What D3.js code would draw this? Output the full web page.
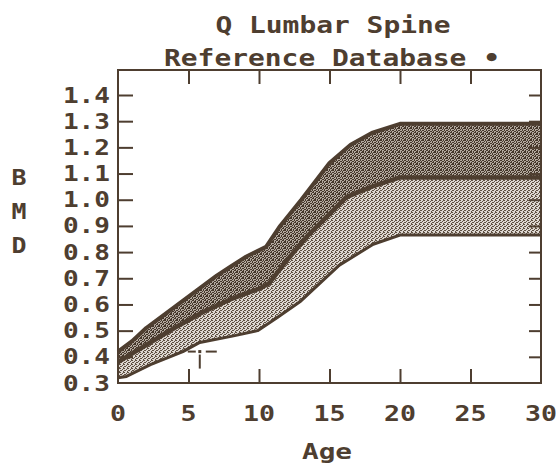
<!DOCTYPE html>
<html><head><meta charset="utf-8">
<script src="https://cdn.jsdelivr.net/npm/d3@7"></script>
<style>body{margin:0;background:#fff}svg{display:block}</style>
</head><body>
<svg id="c" width="556" height="464"></svg>
<script>
// ---- data ----
const titleLines = ["Q Lumbar Spine", "Reference Database \u2022"];
const xTicks = [0, 5, 10, 15, 20, 25, 30];
const yTicks = [0.3, 0.4, 0.5, 0.6, 0.7, 0.8, 0.9, 1.0, 1.1, 1.2, 1.3, 1.4];
const yTickLabels = ["0.3","0.4","0.5","0.6","0.7","0.8","0.9","1.0","1.1","1.2","1.3","1.4"];

const upperAge = [0, 1, 2, 3, 4, 5, 6, 7, 8, 9, 10.5, 11.5, 13, 15, 16.5, 18, 20, 30];
const upperBMD = [0.42, 0.46, 0.51, 0.55, 0.59, 0.63, 0.67, 0.71, 0.745, 0.78, 0.82, 0.90, 1.00, 1.14, 1.21, 1.255, 1.29, 1.29];

const meanAge = [0, 2, 4, 6, 8, 10, 10.7, 12, 13.5, 15, 16.2, 18, 20, 30];
const meanBMD = [0.38, 0.445, 0.51, 0.57, 0.62, 0.66, 0.68, 0.77, 0.865, 0.945, 1.01, 1.05, 1.085, 1.085];

const lowerAge = [0, 0.6, 2.3, 4.6, 5.8, 8.2, 9.9, 11.3, 12.9, 15.7, 18.1, 20, 30];
const lowerBMD = [0.32, 0.325, 0.37, 0.42, 0.455, 0.48, 0.50, 0.55, 0.61, 0.75, 0.83, 0.865, 0.865];

const patientAge = [5.8];
const patientBMD = [0.42];

// ---- layout ----
const ink = "#4e3e30";
const svg = d3.select("#c");
const x = d3.scaleLinear().domain([0, 30]).range([118, 541]);
const y = d3.scaleLinear().domain([0.3, 1.4]).range([383, 95]);
const frameTop = 70;

const defs = svg.append("defs");
const pd = defs.append("pattern").attr("id","pdark").attr("patternUnits","userSpaceOnUse")
  .attr("width",6).attr("height",6);
pd.append("rect").attr("width",6).attr("height",6).attr("fill","#b3a99f");
[[0,0,2,1],[3,0,1,2],[5,1,1,2],[1,2,2,1],[0,3,1,2],[2,4,2,1],[4,3,1,1],[5,5,1,1],[1,5,1,1],[3,2,1,1],[4,5,1,1],[2,1,1,1]]
  .forEach(r=>pd.append("rect").attr("x",r[0]).attr("y",r[1]).attr("width",r[2]).attr("height",r[3]).attr("fill","#44362a"));
const pl = defs.append("pattern").attr("id","plight").attr("patternUnits","userSpaceOnUse")
  .attr("width",4).attr("height",4);
pl.append("rect").attr("width",4).attr("height",4).attr("fill","#ddd7d1");
[[0,0],[2,1],[1,2],[3,3],[0,2],[3,0]]
  .forEach(r=>pl.append("rect").attr("x",r[0]).attr("y",r[1]).attr("width",1).attr("height",1).attr("fill","#5f5042"));

const pts = (ages, vals) => ages.map((a,i)=>({a, v: vals[i]}));
const up = pts(upperAge, upperBMD), mid = pts(meanAge, meanBMD), low = pts(lowerAge, lowerBMD);
const line = d3.line().x(d=>x(d.a)).y(d=>y(d.v));

// bands
svg.append("path").attr("d", line(up.concat(mid.slice().reverse())) + "Z").attr("fill","url(#pdark)");
svg.append("path").attr("d", line(mid.concat(low.slice().reverse())) + "Z").attr("fill","url(#plight)");

// boundary lines
svg.append("path").attr("d", line(up)).attr("fill","none").attr("stroke",ink).attr("stroke-width",4).attr("stroke-linejoin","round");
svg.append("path").attr("d", line(mid)).attr("fill","none").attr("stroke",ink).attr("stroke-width",4.5).attr("stroke-linejoin","round");
svg.append("path").attr("d", line(low)).attr("fill","none").attr("stroke",ink).attr("stroke-width",3).attr("stroke-linejoin","round");

// frame
svg.append("rect").attr("x", x(0)).attr("y", frameTop).attr("width", x(30)-x(0)).attr("height", y(0.3)-frameTop)
  .attr("fill","none").attr("stroke",ink).attr("stroke-width",2);

// axes ticks via d3 axes
const inner = xTicks.slice(1, -1);
const yInner = yTicks.slice(1);
const axB = svg.append("g").attr("transform",`translate(0,${y(0.3)})`)
  .call(d3.axisTop(x).tickValues(inner).tickSize(14).tickFormat(""));
const axT = svg.append("g").attr("transform",`translate(0,${frameTop})`)
  .call(d3.axisBottom(x).tickValues(inner).tickSize(14).tickFormat(""));
const axL = svg.append("g").attr("transform",`translate(${x(0)},0)`)
  .call(d3.axisRight(y).tickValues(yInner).tickSize(15).tickFormat(""));
const axR = svg.append("g").attr("transform",`translate(${x(30)},0)`)
  .call(d3.axisLeft(y).tickValues(yInner).tickSize(12).tickFormat(""));
[axB, axT, axL, axR].forEach(g=>{
  g.select(".domain").remove();
  g.selectAll(".tick line").attr("stroke", ink).attr("stroke-width", 2);
});

const font = "'DejaVu Sans Mono', 'Liberation Mono', monospace";
function txt(s, px, py, size, charW, anchor) {
  const n = s.length;
  const w = n * charW;
  let x0 = px;
  if (anchor === "middle") x0 = px - w/2;
  if (anchor === "end") x0 = px - w;
  return svg.append("text").attr("x", x0).attr("y", py).text(s)
    .attr("font-family", font).attr("font-weight", "bold").attr("font-size", size)
    .attr("fill", ink).attr("textLength", w).attr("lengthAdjust", "spacingAndGlyphs");
}

// tick labels
yTicks.forEach((v,i)=>txt(yTickLabels[i], 110, y(v)+7.5, 20.5, 15.7, "end"));
xTicks.forEach(v=>txt(String(v), x(v), 421, 20.5, 16, "middle"));

// titles
txt(titleLines[0], 333, 33, 22.5, 16.8, "middle");
txt(titleLines[1], 332, 66, 22.5, 16.8, "middle");

// axis titles
txt("Age", 327, 459, 22, 16.7, "middle");
["B","M","D"].forEach((c,i)=>txt(c, 19, 185 + i*34, 21, 15, "middle"));

// patient marker
patientAge.forEach((a,i)=>{
  const px = x(a), py = y(patientBMD[i]);
  const g = svg.append("g").attr("stroke", ink).attr("stroke-width", 2);
  g.append("line").attr("x1", px-12).attr("x2", px-4).attr("y1", py).attr("y2", py);
  g.append("line").attr("x1", px+6).attr("x2", px+17).attr("y1", py).attr("y2", py);
  g.append("line").attr("x1", px).attr("x2", px).attr("y1", py+3).attr("y2", py+17);
  g.append("rect").attr("x", px-1.5).attr("y", py-1.5).attr("width", 3).attr("height", 3).attr("fill", ink).attr("stroke","none");
});
</script>
</body></html>
